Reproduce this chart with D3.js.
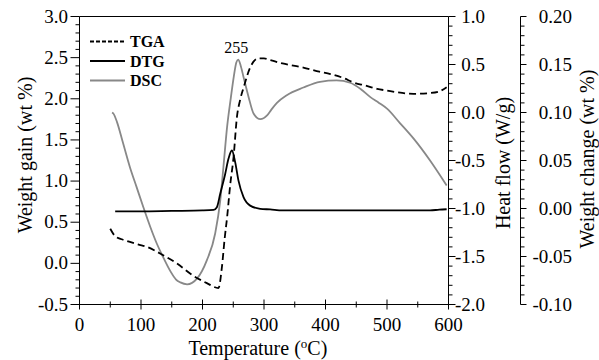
<!DOCTYPE html>
<html><head><meta charset="utf-8">
<script src="https://cdn.jsdelivr.net/npm/d3@7/dist/d3.min.js"></script>
<style>
body{margin:0;background:#fff;}
svg{display:block;}
text{font-family:"Liberation Serif","Times New Roman",serif;fill:#000;}
</style></head>
<body><svg id="c" width="599" height="360"></svg>
<script>
// ---- data ----
const tgaT = [50, 58, 70, 82, 95, 110, 131, 158, 185, 207, 226, 231.5, 236, 240, 245, 250.5, 256, 261, 267, 277.5, 291, 300, 310, 330, 364, 390, 408, 430, 445, 465, 484, 500, 516, 543, 570, 585, 597];
const tgaV = [0.42, 0.33, 0.29, 0.26, 0.23, 0.20, 0.12, 0.00, -0.15, -0.24, -0.30, -0.05, 0.30, 0.56, 0.95, 1.29, 1.78, 1.98, 2.14, 2.38, 2.49, 2.49, 2.47, 2.43, 2.38, 2.33, 2.30, 2.25, 2.20, 2.16, 2.12, 2.10, 2.08, 2.06, 2.07, 2.09, 2.14];

const dtgT = [58, 100, 150, 200, 218, 223.4, 228.8, 236.9, 242.3, 247.8, 253.2, 258.5, 266.7, 277.5, 293.8, 310, 330, 400, 500, 570, 585, 597];
const dtgW = [-0.003, -0.003, -0.0025, -0.002, -0.0014, 0.0014, 0.0153, 0.036, 0.052, 0.0604, 0.048, 0.029, 0.0118, 0.003, -0.0003, -0.001, -0.002, -0.002, -0.002, -0.002, -0.0012, -0.0008];

const dscT = [53, 55, 61, 70, 82, 93, 104, 115, 126, 137, 147.5, 157, 164, 175, 191, 207, 220.6, 228.8, 234, 240, 246, 251, 255, 258, 262, 266.7, 275, 283, 294, 305, 312, 321, 337, 364, 391, 418, 440, 458, 473, 487, 500, 521, 543, 570, 597];
const dscH = [0.00, -0.01, -0.10, -0.30, -0.57, -0.78, -0.99, -1.19, -1.37, -1.52, -1.65, -1.74, -1.77, -1.79, -1.73, -1.54, -1.26, -0.92, -0.57, -0.15, 0.15, 0.38, 0.52, 0.55, 0.49, 0.37, 0.16, -0.01, -0.07, -0.03, 0.03, 0.10, 0.18, 0.26, 0.32, 0.335, 0.31, 0.24, 0.16, 0.10, 0.04, -0.11, -0.27, -0.50, -0.76];

const xTicks = [0, 100, 200, 300, 400, 500, 600];
const leftTicks = [-0.5, 0.0, 0.5, 1.0, 1.5, 2.0, 2.5, 3.0];
const heatTicks = [-2.0, -1.5, -1.0, -0.5, 0.0, 0.5, 1.0];
const wcTicks = [-0.10, -0.05, 0.00, 0.05, 0.10, 0.15, 0.20];
const legendNames = ["TGA", "DTG", "DSC"];
const peakLabel = "255";
const peakT = 255;

// ---- layout ----
const svg = d3.select("#c");
const L = 79.5, R = 448.5, T = 16.5, B = 304.5;
const x = d3.scaleLinear().domain([0, 600]).range([L, R]);
const yL = d3.scaleLinear().domain([-0.5, 3.0]).range([B, T]);
const yH = d3.scaleLinear().domain([-2.0, 1.0]).range([B, T]);
const yW = d3.scaleLinear().domain([-0.10, 0.20]).range([B, T]);
const FS = 19, FT = 20;
const fmt1 = d => (d < 0 ? "-" : "") + Math.abs(d).toFixed(1);
const fmt2 = d => (d < 0 ? "-" : "") + Math.abs(d).toFixed(2);

// frame
svg.append("line").attr("x1", L).attr("x2", R).attr("y1", T).attr("y2", T).attr("stroke", "#000");

// bottom axis (ticks crossing)
const gB = svg.append("g");
gB.append("line").attr("x1", L).attr("x2", R).attr("y1", B).attr("y2", B).attr("stroke", "#000");
d3.range(0, 601, 50).forEach(v => {
  const major = v % 100 === 0;
  const len = major ? 5 : 3;
  gB.append("line").attr("x1", x(v)).attr("x2", x(v)).attr("y1", B - len).attr("y2", B + len).attr("stroke", "#000");
});
gB.selectAll("text.t").data(xTicks).join("text").attr("class", "t")
  .attr("x", d => x(d)).attr("y", 331).attr("text-anchor", "middle").attr("font-size", FS).text(d => d);
const xt = gB.append("text").attr("x", x(290)).attr("y", 355).attr("text-anchor", "middle").attr("font-size", FT);
xt.append("tspan").text("Temperature (");
xt.append("tspan").attr("font-size", 13).attr("dy", -7).text("o");
xt.append("tspan").attr("dy", 7).text("C)");

// left axis
const gL = svg.append("g");
gL.append("line").attr("x1", L).attr("x2", L).attr("y1", T).attr("y2", B).attr("stroke", "#000");
d3.range(-5, 31, 1).forEach(i => {
  const v = i / 10;
  const major = i % 5 === 0;
  gL.append("line").attr("x1", L - (major ? 9 : 4)).attr("x2", L).attr("y1", yL(v)).attr("y2", yL(v)).attr("stroke", "#000");
});
gL.selectAll("text.t").data(leftTicks).join("text").attr("class", "t")
  .attr("x", 68).attr("y", d => yL(d) + 6).attr("text-anchor", "end").attr("font-size", FS).text(fmt1);
gL.append("text").attr("transform", "translate(32,155) rotate(-90)").attr("text-anchor", "middle").attr("font-size", FT).text("Weight gain (wt %)");

// right axis heat flow
const gR = svg.append("g");
gR.append("line").attr("x1", R).attr("x2", R).attr("y1", T).attr("y2", B).attr("stroke", "#000");
d3.range(-20, 11, 1).forEach(i => {
  const v = i / 10;
  const major = i % 5 === 0;
  gR.append("line").attr("x1", R).attr("x2", R + (major ? 7 : 4)).attr("y1", yH(v)).attr("y2", yH(v)).attr("stroke", "#000");
});
gR.selectAll("text.t").data(heatTicks).join("text").attr("class", "t")
  .attr("x", 485).attr("y", d => yH(d) + 6).attr("text-anchor", "end").attr("font-size", FS).text(fmt1);
gR.append("text").attr("transform", "translate(510,163) rotate(-90)").attr("text-anchor", "middle").attr("font-size", FT).text("Heat flow (W/g)");

// third axis weight change
const X3 = 520.5;
const g3 = svg.append("g");
g3.append("line").attr("x1", X3).attr("x2", X3).attr("y1", T).attr("y2", B).attr("stroke", "#000");
d3.range(-10, 21, 1).forEach(i => {
  const v = i / 100;
  const major = i % 5 === 0;
  g3.append("line").attr("x1", X3).attr("x2", X3 + (major ? 6 : 4)).attr("y1", yW(v)).attr("y2", yW(v)).attr("stroke", "#000");
});
g3.selectAll("text.t").data(wcTicks).join("text").attr("class", "t")
  .attr("x", 572).attr("y", d => yW(d) + 6).attr("text-anchor", "end").attr("font-size", FS).text(fmt2);
g3.append("text").attr("transform", "translate(594,159) rotate(-90)").attr("text-anchor", "middle").attr("font-size", FT).text("Weight change (wt %)");

// curves
const curve = d3.curveMonotoneX;
const lineL = d3.line().x(d => x(d[0])).y(d => yL(d[1])).curve(curve);
const lineH = d3.line().x(d => x(d[0])).y(d => yH(d[1])).curve(curve);
const lineW = d3.line().x(d => x(d[0])).y(d => yW(d[1])).curve(curve);

svg.append("path").attr("d", lineH(d3.zip(dscT, dscH))).attr("fill", "none").attr("stroke", "#888").attr("stroke-width", 1.8);
svg.append("path").attr("d", lineW(d3.zip(dtgT, dtgW))).attr("fill", "none").attr("stroke", "#000").attr("stroke-width", 1.8);
svg.append("path").attr("d", lineL(d3.zip(tgaT, tgaV))).attr("fill", "none").attr("stroke", "#000").attr("stroke-width", 1.8).attr("stroke-dasharray", "7,4");

// peak label
svg.append("text").attr("x", x(peakT)).attr("y", 53).attr("text-anchor", "middle").attr("font-size", 16).text(peakLabel);

// legend
const legStyles = [
  {stroke: "#000", dash: "4,2"},
  {stroke: "#000", dash: null},
  {stroke: "#888", dash: null}
];
legendNames.forEach((n, i) => {
  const by = 47 + i * 19.5;
  svg.append("line").attr("x1", 90).attr("x2", 125).attr("y1", by - 5.5).attr("y2", by - 5.5)
    .attr("stroke", legStyles[i].stroke).attr("stroke-width", 1.8).attr("stroke-dasharray", legStyles[i].dash);
  svg.append("text").attr("x", 130).attr("y", by).attr("font-size", 16).attr("font-weight", "bold").text(n);
});
</script></body></html>
